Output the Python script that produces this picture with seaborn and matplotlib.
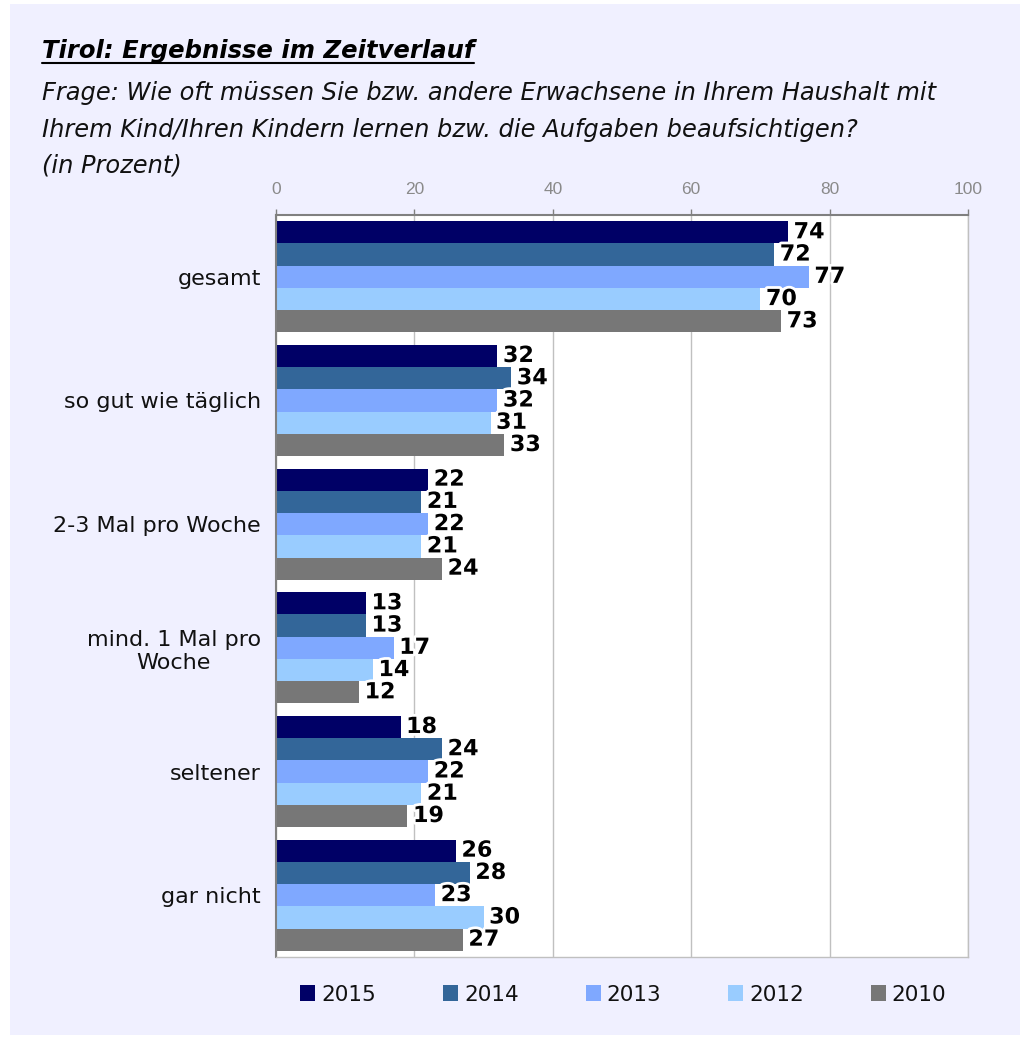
import matplotlib
matplotlib.use('Agg')
import matplotlib.pyplot as plt
import matplotlib.patheffects as pe
from matplotlib.patches import Rectangle
from matplotlib.lines import Line2D
import numpy as np
import pandas as pd
import seaborn as sns

# data
categories = ['gesamt', 'so gut wie täglich', '2-3 Mal pro Woche',
              'mind. 1 Mal pro\nWoche', 'seltener', 'gar nicht']
years = ['2015', '2014', '2013', '2012', '2010']
v2015 = [74, 32, 22, 13, 18, 26]
v2014 = [72, 34, 21, 13, 24, 28]
v2013 = [77, 32, 22, 17, 22, 23]
v2012 = [70, 31, 21, 14, 21, 30]
v2010 = [73, 33, 24, 12, 19, 27]
colors = ['#000066', '#336699', '#7FA8FF', '#99CCFF', '#777777']

title = 'Tirol: Ergebnisse im Zeitverlauf'
subtitle = ['Frage: Wie oft müssen Sie bzw. andere Erwachsene in Ihrem Haushalt mit',
            'Ihrem Kind/Ihren Kindern lernen bzw. die Aufgaben beaufsichtigen?',
            '(in Prozent)']

rows = []
for yr, vals in zip(years, [v2015, v2014, v2013, v2012, v2010]):
    for cat, v in zip(categories, vals):
        rows.append({'Kategorie': cat, 'Jahr': yr, 'Prozent': v})
df = pd.DataFrame(rows)

sns.set_style('white')
plt.rcParams['font.family'] = ['DejaVu Sans']
bg = '#F0F0FF'
head_font = ['DejaVu Sans']
tick_font = ['Liberation Sans', 'DejaVu Sans']

fig = plt.figure(figsize=(10.23, 10.39), dpi=100, facecolor='white')
fig.patches.append(Rectangle((10 / 1023, 4 / 1039), 1010 / 1023, 1031 / 1039,
                             transform=fig.transFigure, facecolor=bg,
                             edgecolor='none', zorder=-10))

ax = fig.add_axes([276 / 1023, 1 - 957 / 1039, 692 / 1023, 742 / 1039])
sns.barplot(data=df, y='Kategorie', x='Prozent', hue='Jahr', order=categories,
            hue_order=years, palette=colors, orient='h', width=0.9,
            saturation=1, ax=ax, errorbar=None, linewidth=0)
ax.set_facecolor('white')
ax.set_xlim(0, 100)
ax.set_ylim(5.5, -0.5)
ax.set_xticks([0, 20, 40, 60, 80, 100])
ax.xaxis.tick_top()
ax.tick_params(axis='x', colors='#808080', labelsize=12.5, length=4, width=1,
               direction='out', pad=9)
for lbl in ax.get_xticklabels():
    lbl.set_fontfamily(tick_font)
    lbl.set_color('#8A8A8A')
ax.set_xlabel('')
ax.set_ylabel('')
ax.grid(axis='x', color='#C0C0C0', linewidth=1)
ax.set_axisbelow(True)
ax.set_yticks(range(len(categories)))
ax.set_yticklabels(categories, fontsize=16, color='#111111', multialignment='center')
ax.set_yticks(np.arange(-0.5, len(categories), 1), minor=True)
ax.tick_params(axis='y', which='major', length=0, pad=11)
ax.tick_params(axis='y', which='minor', length=4, color='#808080', direction='out')
for side in ['top', 'left']:
    ax.spines[side].set_color('#808080')
    ax.spines[side].set_linewidth(1.5)
for side in ['right', 'bottom']:
    ax.spines[side].set_color('#C0C0C0')
    ax.spines[side].set_linewidth(1)

for cont in ax.containers:
    texts = ax.bar_label(cont, padding=4, fontsize=16, fontweight='bold', color='black')
    for t in texts:
        t.set_path_effects([pe.withStroke(linewidth=4, foreground='white')])

leg = ax.legend(loc='upper center', bbox_to_anchor=(0.502, -0.011), ncol=5,
                frameon=False, fontsize=15.5, handlelength=0.7, handleheight=0.8,
                handletextpad=0.28, columnspacing=3.1)
for txt in leg.get_texts():
    txt.set_color('#111111')

# titles
t = fig.text(42 / 1023, 1 - 58 / 1039, title, fontsize=17.5, fontstyle='italic',
             fontweight='bold', family=head_font, va='baseline', color='black')
for line, base in zip(subtitle, [100, 137, 173]):
    fig.text(42 / 1023, 1 - base / 1039, line, fontsize=17.4, fontstyle='italic',
             family=head_font, va='baseline', color='#111111')

fig.canvas.draw()
bb = t.get_window_extent().transformed(fig.transFigure.inverted())
fig.lines.append(Line2D([bb.x0, bb.x1], [1 - 63 / 1039, 1 - 63 / 1039],
                        transform=fig.transFigure, color='black', linewidth=1.5))

fig.savefig('out.png', dpi=100, facecolor=fig.get_facecolor())
